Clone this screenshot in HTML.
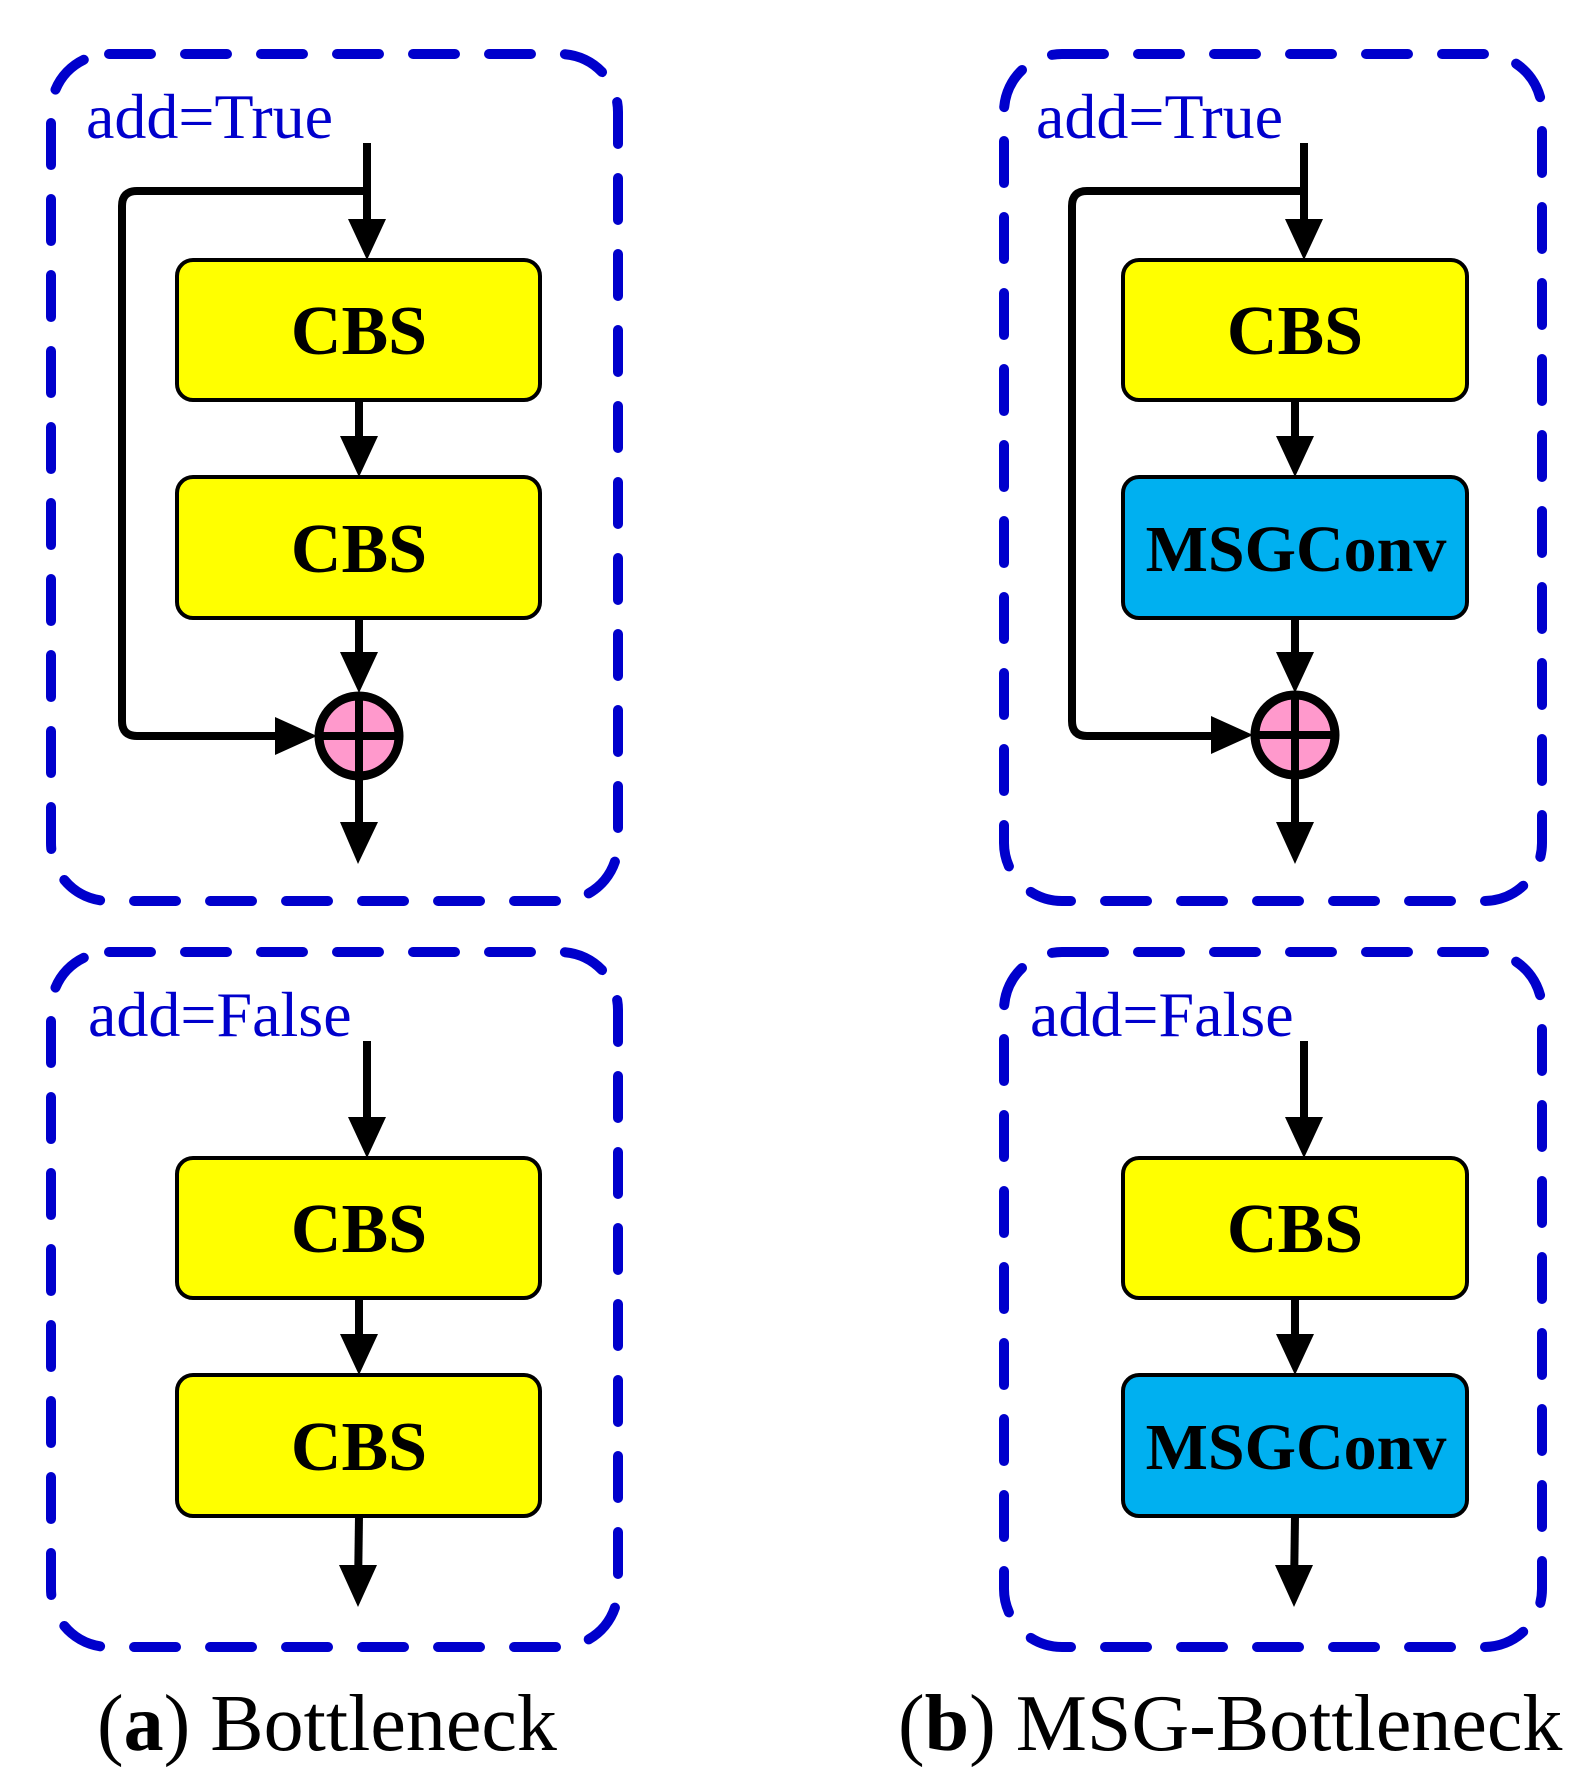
<!DOCTYPE html>
<html><head><meta charset="utf-8"><style>
html,body{margin:0;padding:0;background:#fff}
svg{display:block}
.lbl{font-family:"Liberation Serif",serif;fill:#0000cc;font-size:64px}
.bt{font-family:"Liberation Serif",serif;font-weight:bold;font-size:70px;fill:#000;text-anchor:middle}
.cap{font-family:"Liberation Serif",serif;font-size:80px;fill:#000}
</style></head><body>
<svg width="1590" height="1792" viewBox="0 0 1590 1792" xmlns="http://www.w3.org/2000/svg">
<g fill="none" stroke="#0000cc" stroke-width="10" stroke-linecap="round" stroke-dasharray="42 34">
<rect x="51" y="54" width="567" height="847" rx="58"/>
<rect x="51" y="952" width="567" height="695" rx="58"/>
<rect x="1004" y="54" width="538" height="847" rx="58"/>
<rect x="1004" y="952" width="538" height="695" rx="58"/>
</g>
<text class="lbl" x="86" y="138">add=True</text>
<text class="lbl" x="88" y="1036">add=False</text>
<text class="lbl" x="1036" y="138">add=True</text>
<text class="lbl" x="1030" y="1036">add=False</text>

<g stroke="#000" stroke-width="8" fill="none" stroke-linejoin="round">
<line x1="367" y1="143" x2="367" y2="240"/>
<path d="M367 191 H137 Q122 191 122 206 V721 Q122 736 137 736 H300"/>
<line x1="359" y1="400" x2="359" y2="460"/>
<line x1="359" y1="618" x2="359" y2="676"/>
<line x1="359" y1="778" x2="359" y2="845"/>
<line x1="367" y1="1041" x2="367" y2="1140"/>
<line x1="359" y1="1298" x2="359" y2="1357"/>
<line x1="359" y1="1516" x2="358" y2="1590"/>
<line x1="1304" y1="143" x2="1304" y2="240"/>
<path d="M1304 191 H1087 Q1072 191 1072 206 V721 Q1072 736 1087 736 H1236"/>
<line x1="1295" y1="400" x2="1295" y2="460"/>
<line x1="1295" y1="618" x2="1295" y2="676"/>
<line x1="1295" y1="778" x2="1295" y2="845"/>
<line x1="1304" y1="1041" x2="1304" y2="1140"/>
<line x1="1295" y1="1298" x2="1295" y2="1357"/>
<line x1="1295" y1="1516" x2="1294" y2="1590"/>
</g>
<g fill="#000">
<polygon points="348,219 386,219 367,260"/>
<polygon points="340,436 378,436 359,477"/>
<polygon points="340,652 378,652 359,693"/>
<polygon points="340,822 378,822 358,864"/>
<polygon points="275,717 275,755 317,736"/>
<polygon points="348,1117 386,1117 367,1158"/>
<polygon points="340,1334 378,1334 359,1375"/>
<polygon points="339,1565 377,1565 358,1607"/>
<polygon points="1285,219 1323,219 1304,260"/>
<polygon points="1276,436 1314,436 1295,477"/>
<polygon points="1276,652 1314,652 1295,693"/>
<polygon points="1276,822 1314,822 1295,864"/>
<polygon points="1211,716 1211,754 1253,735"/>
<polygon points="1285,1117 1323,1117 1304,1158"/>
<polygon points="1276,1334 1314,1334 1295,1375"/>
<polygon points="1275,1565 1313,1565 1294,1607"/>
</g>
<g stroke="#000" stroke-width="4">
<rect x="177" y="260" width="363" height="140" rx="16" fill="#ffff00"/>
<rect x="177" y="477" width="363" height="141" rx="16" fill="#ffff00"/>
<rect x="177" y="1158" width="363" height="140" rx="16" fill="#ffff00"/>
<rect x="177" y="1375" width="363" height="141" rx="16" fill="#ffff00"/>
<rect x="1123" y="260" width="344" height="140" rx="16" fill="#ffff00"/>
<rect x="1123" y="477" width="344" height="141" rx="16" fill="#00b0f0"/>
<rect x="1123" y="1158" width="344" height="140" rx="16" fill="#ffff00"/>
<rect x="1123" y="1375" width="344" height="141" rx="16" fill="#00b0f0"/>
</g>
<g stroke="#000" stroke-width="9" fill="#ff99cc">
<circle cx="359" cy="736" r="40"/>
<circle cx="1295" cy="735" r="40"/>
</g>
<g stroke="#000" stroke-width="8">
<line x1="359" y1="696" x2="359" y2="776"/><line x1="319" y1="736" x2="399" y2="736"/>
<line x1="1295" y1="695" x2="1295" y2="775"/><line x1="1255" y1="735" x2="1335" y2="735"/>
</g>
<text class="bt" x="359" y="354">CBS</text>
<text class="bt" x="359" y="572">CBS</text>
<text class="bt" x="359" y="1252">CBS</text>
<text class="bt" x="359" y="1470">CBS</text>
<text class="bt" x="1295" y="354">CBS</text>
<text class="bt" x="1296" y="571" style="font-size:66px">MSGConv</text>
<text class="bt" x="1295" y="1252">CBS</text>
<text class="bt" x="1296" y="1469" style="font-size:66px">MSGConv</text>
<text class="cap" x="97" y="1750">(<tspan font-weight="bold">a</tspan>) Bottleneck</text>
<text class="cap" x="898" y="1750">(<tspan font-weight="bold">b</tspan>) MSG-Bottleneck</text>
</svg>
</body></html>
